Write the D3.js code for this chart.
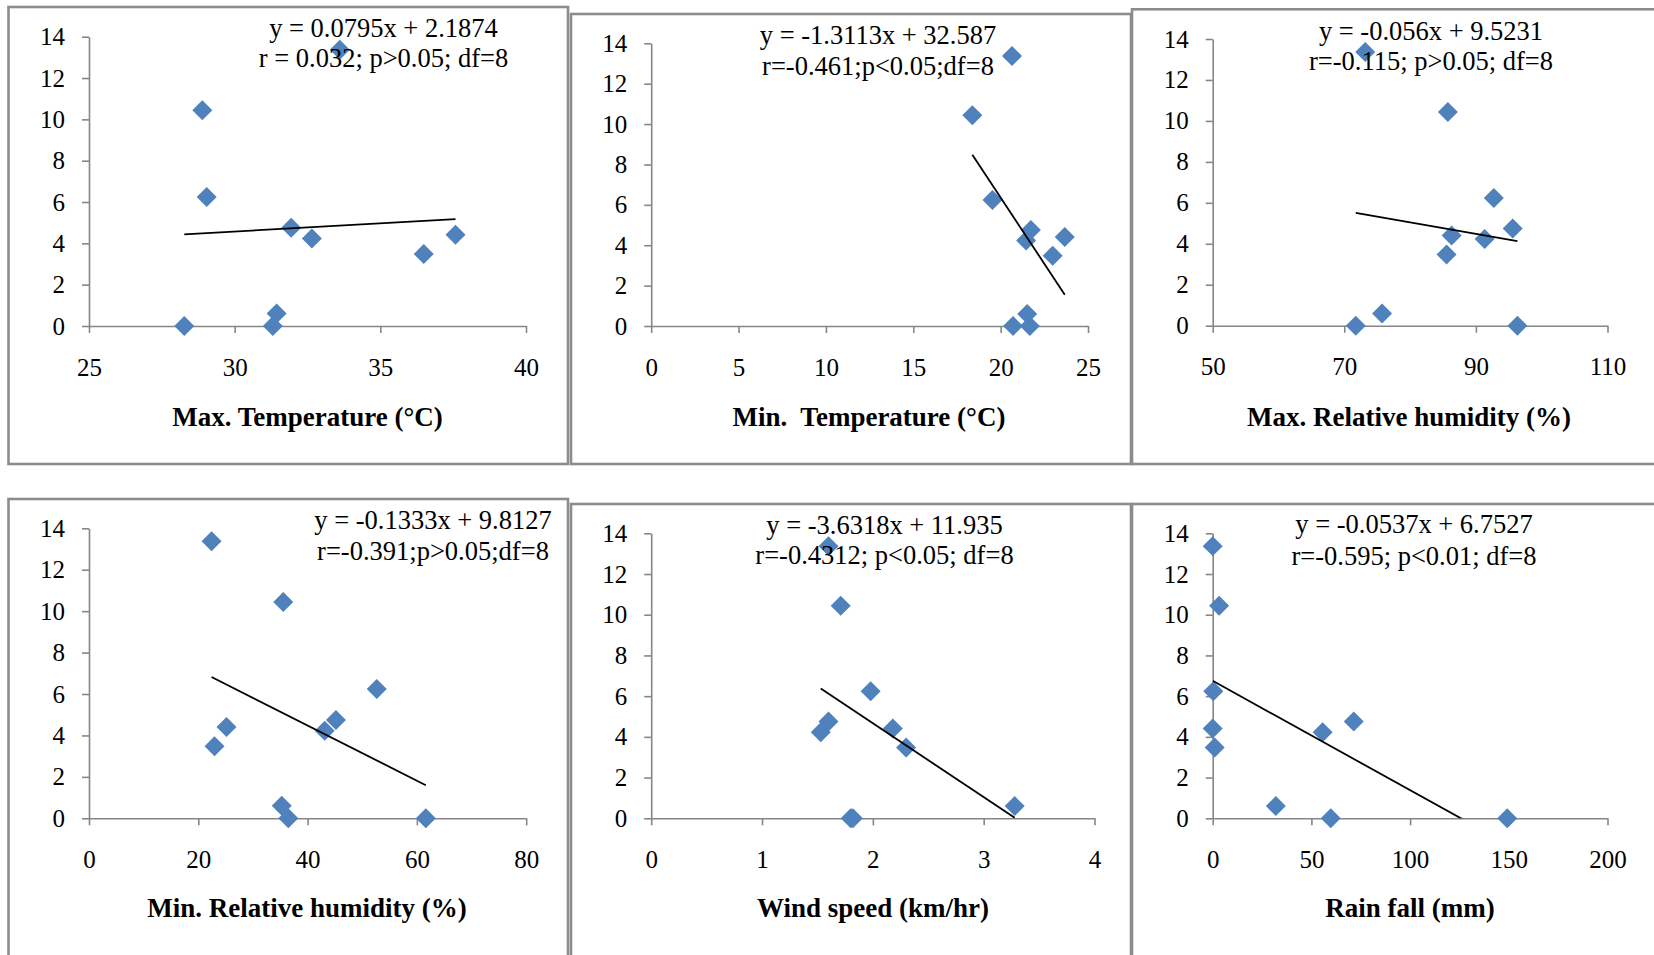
<!DOCTYPE html>
<html>
<head>
<meta charset="utf-8">
<script src="https://cdn.jsdelivr.net/npm/d3@7"></script>
<style>
  html, body { margin: 0; padding: 0; background: #fff; }
  svg { display: block; }
  .tick text { font-family: 'Liberation Serif', 'Times New Roman', serif !important; }
</style>
</head>
<body>
<svg id="chart" width="1654" height="955"></svg>
<script>
// ---------------- DATA ----------------
const yieldVals = [13.37, 10.44, 6.24, 4.75, 4.23, 3.48, 4.41, 0.6, 0, 0];
const maxTemp   = [33.61, 28.89, 29.04, 31.94, 32.65, 36.49, 37.58, 31.44, 28.27, 31.31];
const minTemp   = [20.65, 18.38, 19.53, 21.73, 21.46, 22.98, 23.67, 21.52, 20.71, 21.67];
const maxRH     = [73.18, 85.74, 92.72, 95.59, 91.33, 85.54, 86.31, 75.74, 71.74, 96.31];
const minRH     = [22.43, 35.54, 52.65, 45.19, 43.13, 22.96, 25.16, 35.27, 36.47, 61.63];
const windSpeed = [1.60, 1.71, 1.98, 1.60, 1.53, 2.30, 2.18, 3.28, 1.80, 1.82];
const rainFall  = [0, 3.25, 0.3, 71.45, 55.7, 1.0, 0, 31.97, 59.8, 149.2];

const xSeries = [maxTemp, minTemp, maxRH, minRH, windSpeed, rainFall];
const xTitles = ["Max. Temperature (°C)", "Min.  Temperature (°C)", "Max. Relative humidity (%)",
                 "Min. Relative humidity (%)", "Wind speed (km/hr)", "Rain fall (mm)"];
const xDomains = [[25, 40], [0, 25], [50, 110], [0, 80], [0, 4], [0, 200]];
const xTickVals = [[25, 30, 35, 40], [0, 5, 10, 15, 20, 25], [50, 70, 90, 110],
                   [0, 20, 40, 60, 80], [0, 1, 2, 3, 4], [0, 50, 100, 150, 200]];
const yDomain = [0, 14];
const yTickVals = [0, 2, 4, 6, 8, 10, 12, 14];
const slopes     = [0.0795, -1.3113, -0.056, -0.1333, -3.6318, -0.0537];
const intercepts = [2.1874, 32.587, 9.5231, 9.8127, 11.935, 6.7527];
const eqLine1 = ["y = 0.0795x + 2.1874", "y = -1.3113x + 32.587", "y = -0.056x + 9.5231",
                 "y = -0.1333x + 9.8127", "y = -3.6318x + 11.935", "y = -0.0537x + 6.7527"];
const eqLine2 = ["r = 0.032; p>0.05; df=8", "r=-0.461;p<0.05;df=8", "r=-0.115; p>0.05; df=8",
                 "r=-0.391;p>0.05;df=8", "r=-0.4312; p<0.05; df=8", "r=-0.595; p<0.01; df=8"];

// ---------------- LAYOUT ----------------
const layout = [
  { frame: [8.5, 7, 568, 464],    plot: [89, 526, 36.7, 326],     eq: [383.5, 28, 58],   title: [307.5, 417] },
  { frame: [571, 14, 1131, 464],  plot: [651.2, 1088, 43.3, 326], eq: [878, 35, 66],     title: [869, 417] },
  { frame: [1132, 9.3, 1670, 464],plot: [1212.7, 1607.5, 39, 325.7], eq: [1431, 31, 61], title: [1409, 417] },
  { frame: [8.5, 499, 568, 970],  plot: [89, 526.2, 528.3, 818.3], eq: [433, 520, 551],  title: [307, 908] },
  { frame: [571, 504, 1131, 970], plot: [651.2, 1094.5, 533.3, 818.3], eq: [884.5, 525, 555], title: [873, 908] },
  { frame: [1132, 504, 1670, 970],plot: [1212.7, 1607.5, 533.3, 818.3], eq: [1414, 524, 556], title: [1410, 908] }
];

const FONT = "'Liberation Serif', 'Times New Roman', serif";
const AXIS_COLOR = "#868686";
const FRAME_COLOR = "#8c8c8c";
const MARK_COLOR = "#4f81bd";

const svg = d3.select("#chart");
svg.append("rect").attr("width", 1654).attr("height", 955).attr("fill", "#fff");

const defs = svg.append("defs");

layout.forEach((L, i) => {
  const g = svg.append("g");
  const [fx0, fy0, fx1, fy1] = L.frame;
  g.append("rect")
    .attr("x", fx0).attr("y", fy0)
    .attr("width", fx1 - fx0).attr("height", fy1 - fy0)
    .attr("fill", "#fff").attr("stroke", FRAME_COLOR).attr("stroke-width", 2.6);

  const [pl, pr, pt, pb] = L.plot;
  const x = d3.scaleLinear().domain(xDomains[i]).range([pl, pr]);
  const y = d3.scaleLinear().domain(yDomain).range([pb, pt]);

  // y axis
  const ya = g.append("g").attr("transform", `translate(${pl},0)`)
    .call(d3.axisLeft(y).tickValues(yTickVals).tickSize(7).tickSizeOuter(0).tickPadding(17).tickFormat(d3.format("d")));
  // x axis
  const xa = g.append("g").attr("transform", `translate(0,${pb})`)
    .call(d3.axisBottom(x).tickValues(xTickVals[i]).tickSize(7).tickSizeOuter(0).tickPadding(25).tickFormat(d3.format("d")));

  [ya, xa].forEach(a => {
    a.attr("font-family", FONT).attr("font-size", 25);
    a.select(".domain").attr("stroke", AXIS_COLOR).attr("stroke-width", 1.6);
    a.selectAll(".tick line").attr("stroke", AXIS_COLOR).attr("stroke-width", 1.6);
    a.selectAll(".tick text").attr("fill", "#000")
      .attr("font-family", FONT).attr("font-size", 25)
      .style("font-family", FONT).style("font-size", "25px");
  });

  // clip for trendline
  const clipId = "clip" + i;
  defs.append("clipPath").attr("id", clipId)
    .append("rect").attr("x", pl).attr("y", pt).attr("width", pr - pl).attr("height", pb - pt);

  const xs = xSeries[i];
  const ext = d3.extent(xs);
  const trend = ext.map(v => [v, slopes[i] * v + intercepts[i]]);

  // points
  const pts = xs.map((v, k) => [v, yieldVals[k]]);
  g.append("g").selectAll("path.pt").data(pts).join("path")
    .attr("class", "pt")
    .attr("d", d3.symbol().type(d3.symbolSquare).size(200))
    .attr("transform", d => `translate(${x(d[0])},${y(d[1])}) rotate(45)`)
    .attr("fill", MARK_COLOR);

  g.append("path")
    .datum(trend)
    .attr("clip-path", `url(#${clipId})`)
    .attr("d", d3.line().x(d => x(d[0])).y(d => y(d[1])))
    .attr("fill", "none").attr("stroke", "#000").attr("stroke-width", 1.8);

  // equation text
  [eqLine1[i], eqLine2[i]].forEach((t, k) => {
    g.append("text").attr("x", L.eq[0]).attr("y", L.eq[1 + k]).attr("dy", "0.35em")
      .attr("text-anchor", "middle").style("font-family", FONT).style("font-size", "26.5px")
      .text(t);
  });

  // x title
  g.append("text").attr("x", L.title[0]).attr("y", L.title[1]).attr("dy", "0.35em")
    .attr("text-anchor", "middle").style("font-family", FONT).style("font-size", "27px")
    .style("font-weight", "bold").style("white-space", "pre").attr("xml:space", "preserve")
    .text(xTitles[i]);
});
</script>
</body>
</html>
